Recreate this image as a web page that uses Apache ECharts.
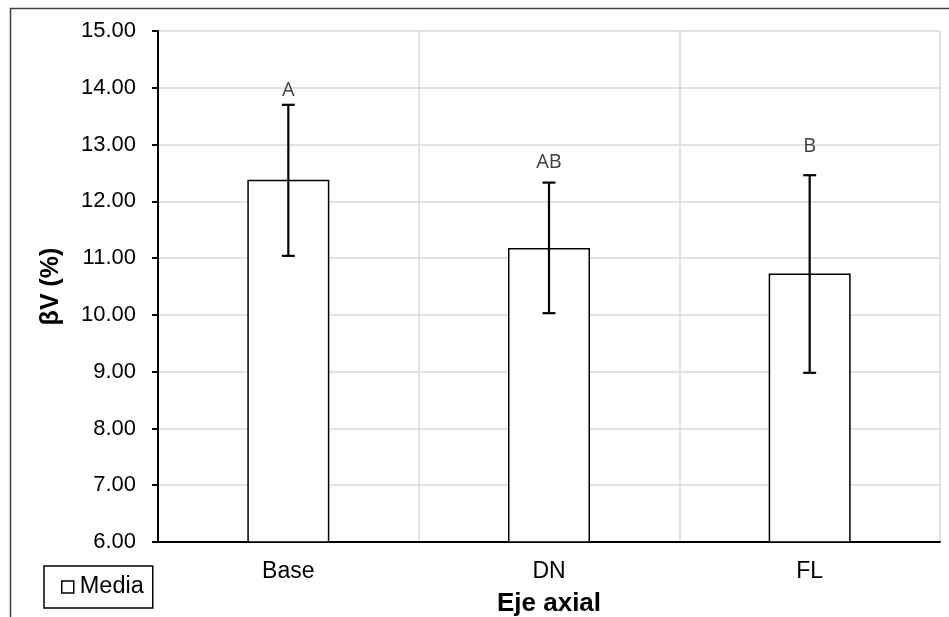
<!DOCTYPE html>
<html>
<head>
<meta charset="utf-8">
<script src="https://cdn.jsdelivr.net/npm/echarts@6/dist/echarts.min.js"></script>
<style>html,body{margin:0;padding:0;background:#fff;}#c{width:949px;height:617px;}</style>
</head>
<body>
<div id="c"></div>
<script>
const categories = ['Base', 'DN', 'FL'];
const means = [12.38, 11.18, 10.73];
const errLow = [11.04, 10.03, 8.98];
const errHigh = [13.70, 12.33, 12.46];
const letters = ['A', 'AB', 'B'];
const letterY = [13.95, 12.68, 12.97];
const yTicks = { min: 6, max: 15, interval: 1 };

const chart = echarts.init(document.getElementById('c'));
const FONT = '"Liberation Sans", Arial, sans-serif';

chart.setOption({
  animation: false,
  backgroundColor: '#fff',
  grid: { left: 158, right: 9, top: 31, bottom: 75, containLabel: false, outerBoundsMode: 'none' },
  legend: {
    data: ['Media'],
    left: 44, top: 566,
    orient: 'horizontal',
    padding: [9, 9, 9, 17],
    borderColor: '#000', borderWidth: 1.5,
    itemWidth: 12, itemHeight: 12,
    icon: 'rect',
    itemStyle: { color: '#fff', borderColor: '#000', borderWidth: 1.5 },
    textStyle: { fontFamily: FONT, fontSize: 23.5, color: '#000', padding: [0, 0, 0, 1] }
  },
  xAxis: {
    type: 'category',
    data: categories,
    name: 'Eje axial',
    nameLocation: 'middle',
    nameGap: 49,
    nameTextStyle: { fontFamily: FONT, fontSize: 26, fontWeight: 'bold', color: '#000' },
    axisLine: { lineStyle: { color: '#000', width: 2 } },
    axisTick: { show: false },
    axisLabel: { fontFamily: FONT, fontSize: 23, color: '#000', margin: 18 },
    splitLine: { show: true, lineStyle: { color: '#d9d9d9', width: 1.5 } }
  },
  yAxis: {
    type: 'value',
    min: yTicks.min, max: yTicks.max, interval: yTicks.interval,
    name: 'βV (%)',
    nameLocation: 'middle',
    nameGap: 94,
    nameRotate: 90,
    nameTextStyle: { fontFamily: FONT, fontSize: 25, fontWeight: 'bold', color: '#000' },
    axisLine: { show: true, lineStyle: { color: '#000', width: 2 } },
    axisTick: { show: true, length: 6, lineStyle: { color: '#000', width: 2 } },
    axisLabel: { fontFamily: FONT, fontSize: 22, color: '#000', margin: 22, formatter: v => v.toFixed(2) },
    splitLine: { show: true, lineStyle: { color: '#d9d9d9', width: 1.5 } }
  },
  graphic: [{
    type: 'rect', left: 8, top: 6, z: -1, silent: true,
    shape: { width: 980, height: 660 },
    style: { fill: 'none', stroke: '#404040', lineWidth: 1.5 }
  }],
  series: [
    {
      name: 'Media',
      type: 'bar',
      data: means,
      barWidth: 82,
      itemStyle: { color: '#fff', borderColor: '#000', borderWidth: 1.5 },
      z: 2
    },
    {
      name: 'err',
      type: 'custom',
      data: categories.map((c, i) => [i, errLow[i], errHigh[i]]),
      encode: { x: 0, y: [1, 2] },
      z: 3,
      renderItem: function (params, api) {
        const i = api.value(0);
        const lo = api.coord([i, api.value(1)]);
        const hi = api.coord([i, api.value(2)]);
        const half = 6.5;
        const st = { stroke: '#000', lineWidth: 2.2 };
        return {
          type: 'group',
          children: [
            { type: 'line', shape: { x1: lo[0], y1: lo[1], x2: hi[0], y2: hi[1] }, style: st },
            { type: 'line', shape: { x1: hi[0] - half, y1: hi[1], x2: hi[0] + half, y2: hi[1] }, style: st },
            { type: 'line', shape: { x1: lo[0] - half, y1: lo[1], x2: lo[0] + half, y2: lo[1] }, style: st }
          ]
        };
      }
    },
    {
      name: 'letters',
      type: 'custom',
      data: categories.map((c, i) => [i, letterY[i], letters[i]]),
      encode: { x: 0, y: 1 },
      z: 4,
      renderItem: function (params, api) {
        const p = api.coord([api.value(0), api.value(1)]);
        return {
          type: 'text',
          x: p[0], y: p[1],
          style: {
            text: letters[params.dataIndex],
            fill: '#404040',
            font: '20px "Open Sans", "Noto Sans", sans-serif',
            align: 'center', verticalAlign: 'middle'
          }
        };
      }
    }
  ]
});
</script>
</body>
</html>
